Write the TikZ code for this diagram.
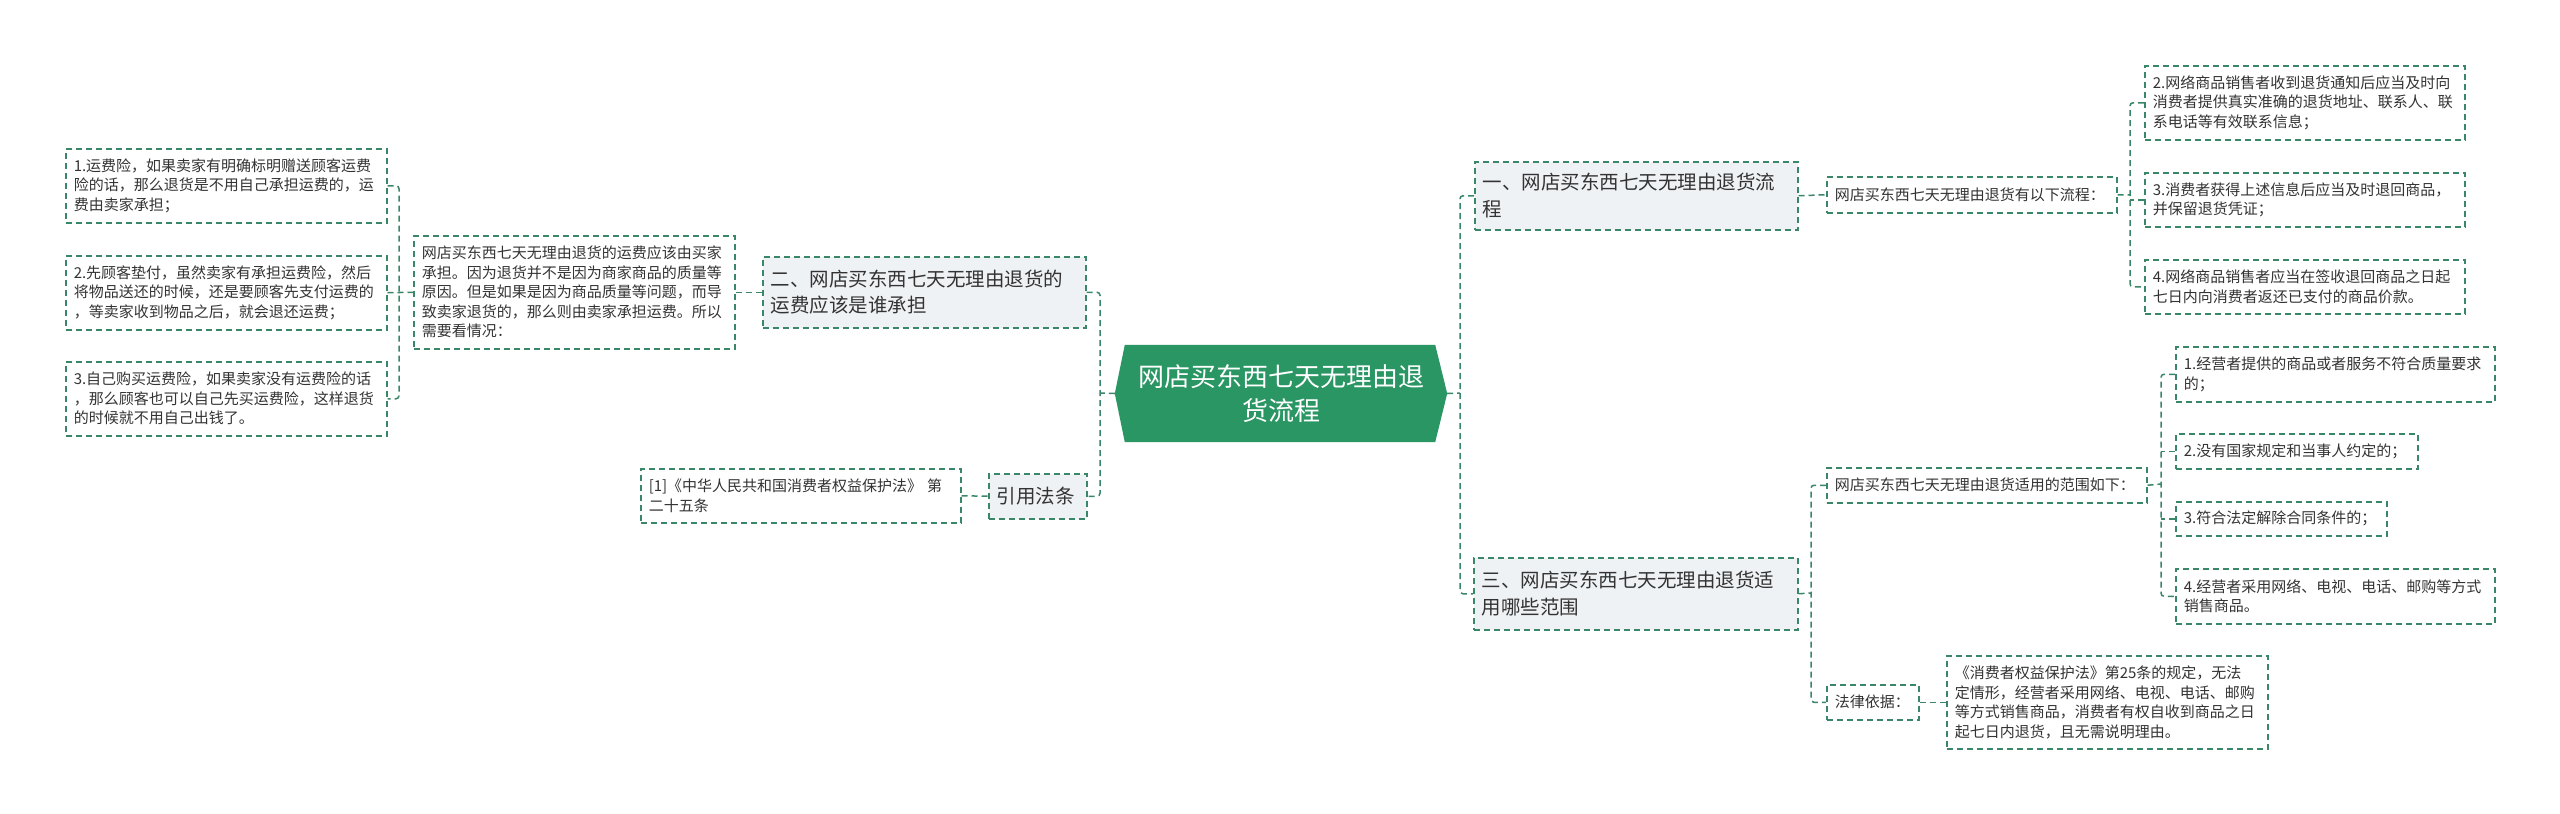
\documentclass[tikz,border=0pt]{standalone}
\usepackage{fontspec}
\setmainfont{Noto Sans CJK SC}
\usetikzlibrary{calc}
\pgfdeclarelayer{bg}
\pgfsetlayers{bg,main}
\definecolor{lc}{RGB}{58,134,104}
\definecolor{rootg}{RGB}{41,150,100}
\definecolor{lonefill}{RGB}{239,242,245}
\definecolor{txt}{RGB}{51,51,51}
\tikzset{
  box/.style={draw=lc, line width=1.5pt, dash pattern=on 6pt off 4pt, inner xsep=8pt, inner ysep=3pt,
    align=left, anchor=north west, text=txt, font=\fontsize{15}{19.5}\selectfont},
  lone/.style={box, fill=lonefill, font=\fontsize{19.5}{26.5}\selectfont},
  conn/.style={draw=lc, line width=1.5pt, dash pattern=on 6pt off 4pt, rounded corners=3pt},
}
\begin{document}
\begin{tikzpicture}[x=1pt,y=-1pt]
\useasboundingbox (0,0) rectangle (2560,814);

% root
\node[inner sep=0pt, minimum width=332pt, minimum height=97pt, text=white, align=center,
  font=\fontsize{26}{34}\selectfont] (root) at (1281,393.5) {网店买东西七天无理由退\\货流程};
\begin{pgfonlayer}{bg}
\fill[white] (0,0) rectangle (2560,814);
\fill[rootg] (root.west) -- ([xshift=10pt]root.north west) -- ([xshift=-12pt]root.north east)
  -- (root.east) -- ([xshift=-12pt]root.south east) -- ([xshift=10pt]root.south west) -- cycle;
\end{pgfonlayer}

% left side
\node[box, text width=305pt, minimum height=74pt] (L1) at (65,148) {1.运费险，如果卖家有明确标明赠送顾客运费\\险的话，那么退货是不用自己承担运费的，运\\费由卖家承担；};
\node[box, text width=305pt, minimum height=74pt] (L2) at (65,255) {2.先顾客垫付，虽然卖家有承担运费险，然后\\将物品送还的时候，还是要顾客先支付运费的\\，等卖家收到物品之后，就会退还运费；};
\node[box, text width=305pt, minimum height=74pt] (L3) at (65,361) {3.自己购买运费险，如果卖家没有运费险的话\\，那么顾客也可以自己先买运费险，这样退货\\的时候就不用自己出钱了。};
\node[box, text width=305pt, minimum height=113pt] (M) at (413,235) {网店买东西七天无理由退货的运费应该由买家\\承担。因为退货并不是因为商家商品的质量等\\原因。但是如果是因为商品质量等问题，而导\\致卖家退货的，那么则由卖家承担运费。所以\\需要看情况：};
\node[lone, text width=307pt, minimum height=71pt] (n2) at (762,256) {二、网店买东西七天无理由退货的\\运费应该是谁承担};
\node[box, text width=304pt, minimum height=54pt] (ref) at (640,468) {[1]《中华人民共和国消费者权益保护法》~第\\二十五条};
\node[lone, text width=82pt, minimum height=45pt] (yin) at (988,473) {引用法条};

% right side
\node[lone, text width=307pt, minimum height=68pt] (n1) at (1474,161) {一、网店买东西七天无理由退货流\\程};
\node[box, text width=274pt, minimum height=36pt] (A) at (1826,176) {网店买东西七天无理由退货有以下流程：};
\node[box, text width=304pt, minimum height=74pt] (B2) at (2144,65) {2.网络商品销售者收到退货通知后应当及时向\\消费者提供真实准确的退货地址、联系人、联\\系电话等有效联系信息；};
\node[box, text width=304pt, minimum height=54pt] (B3) at (2144,172) {3.消费者获得上述信息后应当及时退回商品，\\并保留退货凭证；};
\node[box, text width=304pt, minimum height=54pt] (B4) at (2144,259) {4.网络商品销售者应当在签收退回商品之日起\\七日内向消费者返还已支付的商品价款。};

\node[lone, text width=308pt, minimum height=72pt] (n3) at (1473,557) {三、网店买东西七天无理由退货适\\用哪些范围};
\node[box, text width=304pt, minimum height=35pt] (C) at (1826,467) {网店买东西七天无理由退货适用的范围如下：};
\node[box, text width=303pt, minimum height=55pt] (D1) at (2175,346) {1.经营者提供的商品或者服务不符合质量要求\\的；};
\node[box, text width=226pt, minimum height=35pt] (D2) at (2175,433) {2.没有国家规定和当事人约定的；};
\node[box, text width=195pt, minimum height=34pt] (D3) at (2175,501) {3.符合法定解除合同条件的；};
\node[box, text width=303pt, minimum height=55pt] (D4) at (2175,568) {4.经营者采用网络、电视、电话、邮购等方式\\销售商品。};
\node[box, text width=76pt, minimum height=35pt] (law) at (1826,684) {法律依据：};
\node[box, text width=305pt, minimum height=93pt] (E) at (1946,655) {《消费者权益保护法》第25条的规定，无法\\定情形，经营者采用网络、电视、电话、邮购\\等方式销售商品，消费者有权自收到商品之日\\起七日内退货，且无需说明理由。};

% trunk coordinates
\coordinate (lt) at (1100,393);
\coordinate (ltr) at (399,292);
\coordinate (rt) at (1460,393);
\coordinate (bt) at (2130,195);
\coordinate (ct) at (1811,593);
\coordinate (dt) at (2161,484);

% connectors left
\draw[conn] (n2.east) -| (lt) |- (yin.east);
\draw[conn] (root.west) -- (lt);
\draw[conn] (M.east) -- (n2.west);
\draw[conn] (ref.east) -- (yin.west);
\draw[conn] (L1.east) -| (ltr) |- (L3.east);
\draw[conn] (L2.east) -- (M.west);

% connectors right
\draw[conn] (n1.west) -| (rt) |- (n3.west);
\draw[conn] (root.east) -- (rt);
\draw[conn] (n1.east) -- (A.west);
\draw[conn] (B2.west) -| (bt) |- (B4.west);
\draw[conn] (A.east) -- (bt);
\draw[conn] (B3.west) -- (B3.west -| bt);
\draw[conn] (C.west) -| (ct) |- (law.west);
\draw[conn] (n3.east) -- (ct);
\draw[conn] (D1.west) -| (dt) |- (D4.west);
\draw[conn] (C.east) -- (dt);
\draw[conn] (D2.west) -- (D2.west -| dt);
\draw[conn] (D3.west) -- (D3.west -| dt);
\draw[conn] (law.east) -- (E.west);
\end{tikzpicture}
\end{document}
